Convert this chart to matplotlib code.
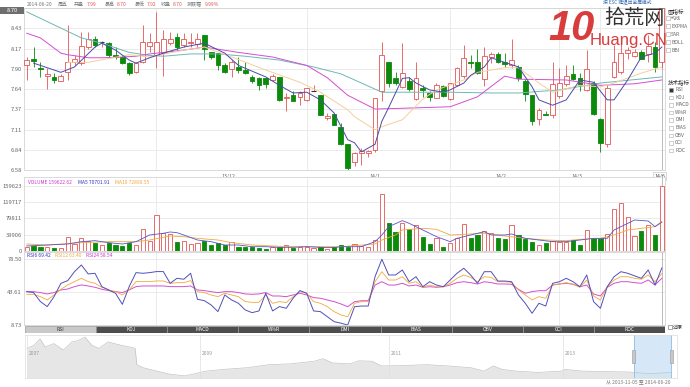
import matplotlib
matplotlib.use("Agg")
import matplotlib.pyplot as plt
from matplotlib.patches import Rectangle
import numpy as np

plt.rcParams['font.family'] = ['Noto Sans CJK SC', 'DejaVu Sans']

W, H = 690, 387

# daily bars 2013-11-05 .. 2014-06-20
opens = [7.96, 8.03, 7.91, 7.81, 7.80, 7.75, 7.87, 8.00, 7.98, 8.19,
         8.30, 8.25, 8.24, 8.09, 8.06, 7.98, 7.87, 8.00, 8.20, 8.09,
         8.11, 8.24, 8.32, 8.22, 8.24, 8.23, 8.35, 8.13, 8.11, 7.96,
         7.90, 7.93, 7.89, 7.80, 7.79, 7.78, 7.76, 7.80, 7.52, 7.57,
         7.54, 7.50, 7.62, 7.56, 7.26, 7.32, 7.14, 6.92, 6.69, 6.80,
         6.80, 6.84, 7.61, 7.99, 7.78, 7.67, 7.74, 7.51, 7.65, 7.59,
         7.53, 7.68, 7.51, 7.69, 7.81, 8.00, 7.99, 7.77, 8.06, 8.10,
         8.00, 7.96, 7.93, 7.75, 7.56, 7.25, 7.32, 7.30, 7.55, 7.71,
         7.84, 7.78, 7.63, 7.72, 7.25, 6.93, 7.80, 7.87, 8.11, 8.07,
         8.12, 8.10, 8.19, 7.99]
highs = [8.06, 8.19, 8.00, 7.91, 7.85, 7.84, 8.48, 8.09, 8.39, 8.38,
         8.33, 8.27, 8.25, 8.19, 8.09, 7.99, 8.00, 8.48, 8.37, 8.65,
         8.41, 8.39, 8.37, 8.37, 8.37, 8.37, 8.35, 8.13, 8.11, 7.98,
         8.02, 8.06, 8.00, 7.82, 7.80, 7.79, 7.84, 7.80, 7.59, 7.61,
         7.62, 7.65, 7.69, 7.57, 7.33, 7.32, 7.20, 6.92, 6.82, 6.87,
         6.85, 7.52, 8.26, 8.00, 7.87, 8.24, 7.80, 7.99, 7.69, 7.61,
         7.72, 7.69, 7.72, 7.93, 8.22, 8.09, 8.16, 8.19, 8.13, 8.12,
         8.11, 8.30, 7.96, 7.77, 7.57, 7.39, 7.35, 8.00, 7.91, 7.96,
         7.96, 7.85, 8.15, 7.74, 7.26, 7.69, 8.22, 8.28, 8.19, 8.17,
         8.15, 8.35, 8.26, 8.70]
lows = [7.76, 7.93, 7.80, 7.64, 7.72, 7.74, 7.76, 7.96, 7.96, 8.17,
        8.19, 8.19, 8.06, 8.03, 7.97, 7.82, 7.85, 7.98, 8.13, 7.91,
        7.81, 8.22, 8.15, 8.19, 8.19, 8.19, 8.02, 8.04, 7.89, 7.85,
        7.80, 7.85, 7.84, 7.72, 7.63, 7.65, 7.74, 7.49, 7.36, 7.48,
        7.43, 7.49, 7.61, 7.30, 7.24, 7.17, 6.91, 6.58, 6.63, 6.65,
        6.76, 6.82, 7.48, 7.67, 7.69, 7.66, 7.61, 7.50, 7.54, 7.49,
        7.52, 7.54, 7.50, 7.68, 7.79, 7.91, 7.84, 7.68, 7.98, 7.98,
        7.93, 7.91, 7.74, 7.48, 7.17, 7.17, 7.30, 7.26, 7.53, 7.68,
        7.76, 7.61, 7.61, 7.30, 6.82, 6.89, 7.78, 7.84, 8.04, 8.06,
        8.03, 8.00, 7.87, 7.92]
closes = [8.02, 8.01, 7.905, 7.84, 7.76, 7.81, 8.00, 8.04, 8.20, 8.30,
          8.22, 8.25, 8.09, 8.06, 7.98, 7.85, 7.98, 8.25, 8.26, 8.26,
          8.29, 8.29, 8.19, 8.29, 8.26, 8.30, 8.16, 8.06, 7.96, 7.87,
          8.00, 7.89, 7.85, 7.74, 7.69, 7.71, 7.81, 7.50, 7.54, 7.49,
          7.59, 7.65, 7.62, 7.30, 7.29, 7.17, 6.92, 6.61, 6.81, 6.83,
          6.83, 7.52, 8.09, 7.72, 7.72, 7.85, 7.64, 7.79, 7.63, 7.54,
          7.69, 7.55, 7.72, 7.92, 8.05, 7.98, 7.85, 8.07, 8.10, 7.99,
          7.97, 8.02, 7.79, 7.58, 7.22, 7.37, 7.30, 7.71, 7.72, 7.81,
          7.77, 7.69, 7.90, 7.32, 6.94, 7.65, 8.00, 8.11, 8.15, 8.12,
          8.04, 8.20, 7.93, 8.70]
volumes = [9000, 12300, 10600, 10600, 6500, 6500, 34400, 16400, 31100, 25400,
           19600, 14700, 20500, 13900, 12300, 19600, 15600, 53200, 24000, 88400,
           43400, 40900, 22900, 24600, 17200, 20500, 25400, 13900, 18800, 13900,
           22900, 10600, 9000, 10600, 8200, 5700, 9000, 10600, 13900, 8200,
           10600, 9000, 7400, 10600, 5700, 9000, 14700, 10600, 17200, 12300,
           9000, 27000, 140000, 68000, 45900, 69600, 53200, 63900, 35200, 17200,
           31100, 10600, 20500, 31100, 65500, 31100, 39300, 49100, 43400, 31100,
           29500, 63900, 39300, 29500, 22900, 14700, 18800, 24600, 22900, 22900,
           27000, 14700, 51600, 31100, 31100, 40900, 102300, 117100, 82700, 36800,
           49100, 63900, 39300, 159623]

# moving average lines: (bar index, value)
ma5_at = [1, 4, 5, 7, 10, 11, 13, 15, 16, 18, 20, 23, 26, 29, 31, 35, 37, 39, 41, 43,
          45, 47, 48, 49, 51, 52, 53, 55, 56, 57, 59, 61, 62, 64, 65, 67, 68, 70, 72, 74,
          75, 77, 79, 81, 83, 85, 86, 88, 90, 92, 93]
ma5 = [7.98, 7.89, 7.86, 7.93, 8.19, 8.24, 8.15, 8.02, 7.98, 8.05, 8.11, 8.19, 8.24, 8.11,
       7.95, 7.80, 7.69, 7.59, 7.60, 7.50, 7.33, 6.98, 6.94, 6.82, 6.92, 7.22, 7.40, 7.78,
       7.79, 7.72, 7.63, 7.60, 7.63, 7.72, 7.82, 7.93, 8.05, 7.99, 7.93, 7.67, 7.50, 7.43,
       7.50, 7.76, 7.73, 7.50, 7.50, 7.76, 8.06, 8.11, 8.19]
ma10_at = [6, 9, 15, 18, 23, 26, 30, 35, 40, 43, 47, 48, 51, 52, 55, 58, 60, 64, 66, 70,
           72, 75, 77, 81, 84, 86, 90, 93]
ma10 = [7.99, 7.99, 8.09, 8.06, 8.15, 8.19, 8.06, 7.89, 7.73, 7.60, 7.37, 7.28, 7.11, 7.15,
        7.24, 7.51, 7.63, 7.76, 7.86, 7.92, 7.92, 7.72, 7.60, 7.69, 7.67, 7.72, 7.85, 7.93]
ma20_at = [0, 2, 5, 6, 9, 11, 14, 16, 18, 23, 26, 31, 36, 41, 44, 47, 51, 55, 62, 66,
           70, 72, 79, 84, 89, 93]
ma20 = [8.37, 8.31, 8.11, 8.09, 8.05, 8.05, 8.06, 8.07, 8.10, 8.15, 8.19, 8.12, 8.06, 7.95,
        7.79, 7.56, 7.38, 7.39, 7.41, 7.54, 7.81, 7.77, 7.76, 7.69, 7.71, 7.76]
ma60_at = [0, 4, 8, 11, 15, 18, 20, 24, 28, 32, 37, 42, 46, 52, 56, 62, 68, 72, 78, 84, 93]
ma60 = [8.65, 8.48, 8.31, 8.24, 8.12, 8.08, 8.07, 8.10, 8.10, 8.07, 8.02, 7.93, 7.84, 7.60,
        7.60, 7.60, 7.59, 7.59, 7.63, 7.72, 7.80]

vol_ma5_at = [0, 6, 8, 10, 12, 14, 16, 18, 20, 21, 22, 23, 25, 27, 29, 31, 33, 35, 37, 39,
              41, 43, 45, 46, 49, 51, 52, 53, 55, 56, 58, 60, 62, 63, 65, 67, 68, 70, 71, 73,
              75, 77, 79, 81, 83, 85, 86, 88, 89, 91, 92, 93]
vol_ma5 = [12300, 17200, 22900, 25400, 20500, 17200, 22900, 39300, 43400, 46700, 45000, 39300,
           27000, 22900, 14700, 14700, 10600, 10600, 9000, 9000, 10600, 9000, 8200, 10600,
           10600, 22900, 39300, 59800, 74500, 67900, 51600, 35200, 22900, 31100, 39300, 47500,
           39300, 39300, 41800, 31100, 27000, 22900, 22900, 27000, 31100, 31100, 51600, 67900,
           76100, 73700, 59800, 70702]
vol_ma10_at = [0, 3, 8, 12, 16, 18, 21, 23, 25, 28, 30, 33, 36, 39, 42, 45, 46, 51, 52, 54,
               55, 58, 60, 62, 65, 67, 70, 73, 76, 79, 81, 84, 86, 88, 90, 92, 93]
vol_ma10 = [17200, 14700, 20500, 22900, 22900, 27000, 36800, 35200, 31100, 27000, 20500,
            14700, 12300, 10600, 10600, 10600, 10600, 17200, 27000, 39300, 51600, 55700,
            53200, 39300, 41800, 43400, 36800, 31100, 27000, 25400, 28700, 31100, 39300,
            51600, 55700, 59800, 72891]

rsi6 = [44.3, 43.3, 33.8, 28.5, 39.0, 53.1, 55.9, 65.5, 72.5, 63.0, 63.7, 49.6, 46.1, 42.6,
        30.9, 49.6, 64.4, 63.7, 64.4, 65.5, 65.5, 53.1, 58.4, 57.4, 63.7, 36.2, 34.8, 30.2,
        23.2, 40.8, 35.5, 32.0, 24.9, 22.1, 23.9, 42.6, 23.9, 28.5, 26.7, 37.3, 45.4, 42.6,
        23.9, 23.2, 17.9, 12.6, 11.0, 9.0, 28.4, 29.1, 29.1, 60.1, 78.5, 61.9, 61.9, 67.2,
        54.8, 60.1, 49.5, 54.8, 51.3, 49.5, 56.6, 63.7, 69.0, 61.9, 53.1, 65.4, 65.4, 55.5,
        55.5, 54.8, 40.8, 32.0, 21.4, 32.0, 29.1, 53.1, 54.8, 58.4, 54.8, 49.5, 61.9, 33.7,
        26.7, 49.5, 60.1, 65.4, 63.7, 61.0, 58.4, 67.2, 51.3, 69.4]
rsi12 = [41.5, 41.5, 39.0, 35.5, 40.8, 46.8, 51.4, 54.9, 58.4, 54.9, 53.1, 48.9, 46.1, 44.3,
         40.8, 46.1, 54.9, 54.9, 54.9, 55.6, 55.6, 53.1, 53.8, 53.8, 56.0, 44.3, 43.3, 40.8,
         39.0, 42.6, 40.8, 39.0, 33.8, 33.0, 33.0, 40.8, 32.0, 33.8, 32.7, 39.0, 44.3, 42.6,
         33.8, 32.0, 28.5, 23.2, 19.7, 17.8, 32.0, 33.7, 33.7, 54.8, 65.4, 56.6, 56.6, 60.1,
         53.1, 54.8, 48.9, 51.3, 49.5, 49.5, 53.1, 58.4, 61.9, 59.4, 54.8, 60.1, 59.4, 54.8,
         54.8, 54.2, 46.0, 40.8, 35.5, 39.0, 37.3, 51.3, 52.4, 53.8, 52.1, 48.9, 56.6, 39.7,
         35.5, 49.5, 56.6, 60.1, 60.1, 58.4, 57.4, 61.9, 54.8, 63.4]
rsi24 = [44.3, 44.3, 43.3, 41.9, 43.3, 46.1, 47.1, 49.6, 51.4, 50.3, 48.9, 46.8, 45.4, 44.3,
         43.3, 46.1, 49.6, 50.3, 50.3, 50.3, 50.3, 49.6, 49.6, 49.6, 50.3, 46.1, 45.4, 44.3,
         43.3, 44.3, 44.3, 43.3, 41.9, 41.5, 41.9, 43.3, 39.7, 39.7, 39.0, 40.8, 42.6, 40.8,
         38.0, 37.3, 35.5, 33.8, 31.3, 28.4, 33.7, 34.7, 34.7, 51.3, 54.8, 51.3, 51.3, 53.1,
         50.3, 51.3, 48.9, 49.5, 48.9, 49.5, 51.3, 53.8, 54.8, 53.8, 52.4, 54.8, 53.8, 52.4,
         52.4, 52.1, 46.8, 42.6, 44.3, 45.3, 45.3, 51.3, 52.4, 53.1, 52.1, 49.5, 51.3, 41.8,
         39.7, 48.9, 53.1, 54.8, 54.8, 53.8, 53.1, 56.6, 51.3, 58.5]

# first bar of each month, and the months that get a label
month_starts = [19, 41, 62, 78, 84]
month_labels = ["13/12", "14/1", "14/2", "14/3"]

price_ticks = [6.58, 6.845, 7.11, 7.375, 7.64, 7.905, 8.17, 8.435, 8.70]
price_labels = ["6.58", "6.84", "7.11", "7.37", "7.64", "7.90", "8.17", "8.43", ""]
vol_ticks = [0, 39906, 79811, 119717, 159623]
rsi_ticks = [8.73, 43.61, 78.50]

tabs = ["RSI", "KDJ", "MACD", "W%R", "DMI", "BIAS", "OBV", "CCI", "ROC"]
main_inds = ["均线", "EXPMA", "SAR", "BOLL", "BBI"]

# overview strip (long history)
nav_year = [2007.0, 2007.08, 2007.15, 2007.21, 2007.31, 2007.42, 2007.52, 2007.59, 2007.67,
            2007.75, 2007.83, 2007.94, 2008.01, 2008.09, 2008.19, 2008.25, 2008.27, 2008.34,
            2008.50, 2008.65, 2008.82, 2008.92, 2009.06, 2009.25, 2009.50, 2009.73, 2009.96,
            2010.21, 2010.30, 2010.40, 2010.59, 2010.68, 2010.82, 2010.92, 2011.17, 2011.43,
            2011.68, 2011.94, 2012.09, 2012.20, 2012.30, 2012.46, 2012.71, 2012.98, 2013.02,
            2013.24, 2013.50, 2013.78, 2014.12, 2014.47]
nav_level = [0.69, 0.76, 0.91, 0.72, 0.80, 0.65, 0.84, 0.87, 0.95, 0.76, 0.69, 0.84, 0.80,
             0.76, 0.72, 0.69, 0.31, 0.24, 0.16, 0.09, 0.05, 0.09, 0.16, 0.20, 0.24, 0.31,
             0.33, 0.39, 0.45, 0.35, 0.33, 0.40, 0.39, 0.28, 0.29, 0.31, 0.28, 0.24, 0.16,
             0.28, 0.20, 0.16, 0.13, 0.16, 0.20, 0.16, 0.15, 0.14, 0.10, 0.13]
nav_years_shown = [2007, 2009, 2011, 2013]
sel_start, sel_end = 2013.85, 2014.47

RED = '#e25555'
GREEN = '#0b8a0b'
GRID = '#e8e8e8'
C_MA5 = '#4b4ba8'
C_MA10 = '#f4cf9c'
C_MA20 = '#d24fd2'
C_MA60 = '#6fb7b7'
C_ORANGE = '#f0a93a'

fig = plt.figure(figsize=(W / 100, H / 100), dpi=100)


def axes_px(x0, y0, x1, y1):
    return fig.add_axes([x0 / W, 1 - y1 / H, (x1 - x0) / W, (y1 - y0) / H])


def ftext(x, y, s, **kw):
    kw.setdefault('fontsize', 3.6)
    kw.setdefault('va', 'center')
    kw.setdefault('color', '#666666')
    fig.text(x / W, 1 - y / H, s, **kw)


def panel(ax, ticks, labels):
    ax.set_xlim(-0.4, 93.46)
    ax.set_yticks(ticks)
    ax.set_yticklabels(labels)
    ax.tick_params(axis='y', length=0, pad=1.5, labelsize=4.2, labelcolor='#666666')
    ax.set_xticks([])
    ax.grid(axis='y', color=GRID, lw=0.6)
    ax.set_axisbelow(True)
    for s in ax.spines.values():
        s.set_color('#d4d4d4')
        s.set_linewidth(0.6)
    for m in month_starts:
        ax.axvline(m, color=GRID, lw=0.6, zorder=0)
    ax.axvline(len(closes) - 1, color='#b0b0b0', lw=0.6, zorder=1)


idx = np.arange(len(closes))
o = np.array(opens)
c = np.array(closes)
up = c >= o

# ---- price panel ----
axp = axes_px(24, 8, 665, 170.3)
panel(axp, price_ticks, price_labels)
axp.set_ylim(6.58, 8.70)
axp.vlines(idx, lows, highs, colors=[RED if u else GREEN for u in up], lw=0.6, zorder=2)
body_lo = np.minimum(o, c)
body_h = np.maximum(np.abs(c - o), 0.012)
for i in idx:
    if opens[i] == closes[i]:
        axp.hlines(opens[i], i - 0.35, i + 0.35, color='#333333', lw=0.8, zorder=3)
    elif up[i]:
        axp.bar(i, body_h[i], bottom=body_lo[i], width=0.7, facecolor='white',
                edgecolor=RED, lw=0.6, zorder=3)
    else:
        axp.bar(i, body_h[i], bottom=body_lo[i], width=0.7, facecolor=GREEN,
                edgecolor=GREEN, lw=0.6, zorder=3)
axp.plot(ma60_at, ma60, color=C_MA60, lw=0.7, zorder=4)
axp.plot(ma20_at, ma20, color=C_MA20, lw=0.7, zorder=4)
axp.plot(ma10_at, ma10, color=C_MA10, lw=0.7, zorder=4)
axp.plot(ma5_at, ma5, color=C_MA5, lw=0.7, zorder=4)

# ---- volume panel ----
axv = axes_px(24, 177, 665, 251)
panel(axv, vol_ticks, [str(v) for v in vol_ticks])
axv.set_ylim(0, 181722)
axv.bar(idx[up], np.array(volumes)[up], width=0.62, facecolor='white', edgecolor=RED,
        lw=0.6, zorder=2)
axv.bar(idx[~up], np.array(volumes)[~up], width=0.62, facecolor=GREEN, edgecolor=GREEN,
        lw=0.6, zorder=2)
axv.plot(vol_ma10_at, vol_ma10, color=C_ORANGE, lw=0.6, zorder=3)
axv.plot(vol_ma5_at, vol_ma5, color='#5555cc', lw=0.6, zorder=3)

# ---- RSI panel ----
axr = axes_px(24, 252, 665, 325.3)
panel(axr, rsi_ticks, ["%.2f" % t for t in rsi_ticks])
axr.set_ylim(8.73, 86.2)
axr.plot(idx, rsi24, color=C_MA20, lw=0.7)
axr.plot(idx, rsi12, color=C_ORANGE, lw=0.6)
axr.plot(idx, rsi6, color='#5050bb', lw=0.7)

# month labels, centred on each month's bars
for k, lab in enumerate(month_labels):
    ctr = (month_starts[k] + month_starts[k + 1] - 1) / 2
    axp.text(ctr, -0.02, lab, transform=axp.get_xaxis_transform(), ha='center', va='top',
             fontsize=3.8, color='#666666')
axp.text(len(closes) - 1.3, -0.02, "14/6", transform=axp.get_xaxis_transform(),
         ha='center', va='top', fontsize=3.8, color='#444444',
         bbox=dict(boxstyle='square,pad=0.2', fc='white', ec='#bbbbbb', lw=0.4))

# cursor price on the left axis
fig.patches.append(Rectangle((0, 1 - 13.5 / H), 24 / W, 7 / H, transform=fig.transFigure,
                             fc='#6e6e6e', ec='none'))
ftext(12, 10, "8.70", ha='center', color='white', fontsize=4.2)

# header line
hdr = [(27, "2014-06-20", '#777777'), (58, "周五", '#777777'), (74, "开盘", '#777777'),
       (87, "7.99", RED), (105, "最高", '#777777'), (117, "8.70", RED),
       (135, "最低", '#777777'), (147, "7.92", RED), (161, "收盘", '#777777'),
       (173, "8.70", RED), (187, "涨跌幅", '#777777'), (205, "9.99%", RED)]
for x, s, col in hdr:
    ftext(x, 4, s, color=col, fontsize=3.6)

# panel legends
ftext(28, 182, "VOLUME 159622.62", color='#cc33cc', fontsize=3.5)
ftext(78, 182, "MA5 70701.91", color='#3333cc', fontsize=3.5)
ftext(115, 182, "MA10 72890.55", color=C_ORANGE, fontsize=3.5)
ftext(27, 255.5, "RSI6 69.42", color='#3333bb', fontsize=3.5)
ftext(55, 255.5, "RSI12 63.40", color=C_ORANGE, fontsize=3.5)
ftext(86, 255.5, "RSI24 58.54", color='#cc33cc', fontsize=3.5)

# indicator tabs
axt = axes_px(25, 325.5, 665, 333)
axt.set_xlim(0, len(tabs))
axt.set_ylim(0, 1)
axt.axis('off')
for k, name in enumerate(tabs):
    sel = k == 0
    axt.add_patch(Rectangle((k, 0), 1, 1, fc='#c9c9c9' if sel else '#4e4e4e',
                            ec='#9a9a9a', lw=0.5))
    axt.text(k + 0.5, 0.5, name, ha='center', va='center', fontsize=3.6,
             color='#333333' if sel else 'white')

# overview navigator
anchors_y = [2000.0, 2007.0, 2009.0, 2011.0, 2013.0, 2013.85, 2014.47, 2020.0]
anchors_x = [27 - 7 * 86.5, 27, 200, 389, 563, 634, 671, 671 + 5.53 * 59.7]


def fwd(v):
    return np.interp(v, anchors_y, anchors_x)


def inv(v):
    return np.interp(v, anchors_x, anchors_y)


axn = axes_px(25, 335, 677, 378)
axn.set_xscale('function', functions=(fwd, inv))
axn.set_xlim(inv(25), inv(677))
axn.set_ylim(0, 1.0)
axn.fill_between(nav_year, nav_level, color='#e6e6e6', lw=0)
axn.plot(nav_year, nav_level, color='#c4c4c4', lw=0.5)
for yr in nav_years_shown:
    axn.axvline(yr, color='#dedede', lw=0.5)
    axn.text(yr + 0.02, 0.58, str(yr), fontsize=3.6, color='#999999', va='center')
axn.axvspan(sel_start, sel_end, color='#cfe5f6', alpha=0.85, lw=0)
axn.axvline(sel_start, color='#8cbde3', lw=0.6)
axn.axvline(sel_end, color='#8cbde3', lw=0.6)
for xs in (sel_start, sel_end):
    axn.add_patch(Rectangle((inv(fwd(xs) - 1.5), 0.35), inv(fwd(xs) + 1.5) - inv(fwd(xs) - 1.5),
                            0.3, fc='#c8c8c8', ec='#999999', lw=0.4, zorder=5))
axn.set_xticks([])
axn.set_yticks([])
for s in axn.spines.values():
    s.set_color('#dddddd')
    s.set_linewidth(0.5)
ftext(670, 382, "从 2013-11-05 至 2014-06-20", ha='right', fontsize=3.6, color='#777777')

# right side option lists
ftext(668, 11, "图指标", color='#333333', fontsize=4)
for k, name in enumerate(main_inds):
    yy = 18 + k * 8
    fig.patches.append(Rectangle((666 / W, 1 - (yy + 2) / H), 3.5 / W, 3.5 / H,
                                 transform=fig.transFigure, fc='white', ec='#aaaaaa', lw=0.4))
    ftext(671, yy, name, fontsize=3.6)
ftext(668, 82, "技术指标", color='#333333', fontsize=4)
for k, name in enumerate(tabs):
    yy = 89.5 + k * 7.6
    fig.patches.append(Rectangle((669 / W, 1 - (yy + 2) / H), 3.5 / W, 3.5 / H,
                                 transform=fig.transFigure, fc='#333333' if k == 0 else 'white',
                                 ec='#aaaaaa', lw=0.4))
    ftext(675, yy, name, fontsize=3.6)
fig.patches.append(Rectangle((668 / W, 1 - 329 / H), 4 / W, 4 / H, transform=fig.transFigure,
                             fc='white', ec='#666666', lw=0.4))
ftext(673, 327, "还原", fontsize=3.6, color='#444444')

# top-right hint and site watermark
ftext(603, 2.5, "按 ESC 键退出全屏模式", fontsize=3.4, color='#3a6fb0')
ftext(548, 29, "10", fontsize=30, color='#d83c3c', fontweight='bold',
      family=['Liberation Sans', 'DejaVu Sans'], style='italic')
ftext(604, 19, "拾荒网", fontsize=14.5, color='#333333')
ftext(590, 40, "Huang.CN", fontsize=12, color='#d83c3c',
      family=['Liberation Sans', 'DejaVu Sans'])

fig.savefig("out.png", dpi=100)
